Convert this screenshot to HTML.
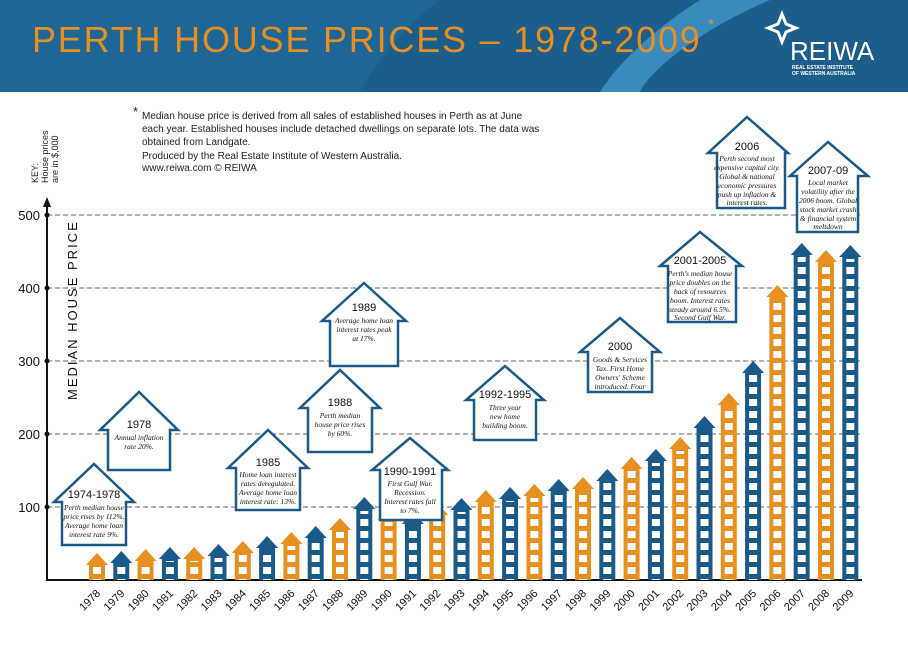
<!DOCTYPE html>
<html><head><meta charset="utf-8"><style>
body{margin:0;width:908px;height:642px;overflow:hidden;background:#fff;font-family:"Liberation Sans",sans-serif}
</style></head><body>
<svg width="908" height="642" viewBox="0 0 908 642" xmlns="http://www.w3.org/2000/svg" font-family="Liberation Sans, sans-serif">
<defs>
<pattern id="w" patternUnits="userSpaceOnUse" x="-8" y="0" width="16" height="12">
<rect x="4" y="3" width="8" height="7" fill="#fff"/>
</pattern>
</defs>
<!-- header -->
<rect x="0" y="0" width="908" height="92" fill="#1b5d8b"/>
<path d="M0,0 H440 C400,30 380,60 360,92 H0 Z" fill="#1e6696"/>
<path d="M700,0 H770 C700,30 650,70 640,92 H600 C620,60 660,25 700,0 Z" fill="#3a8bbd"/>
<text x="32" y="52" font-size="36" fill="#e98f22" letter-spacing="1.8">PERTH HOUSE PRICES – 1978-2009</text>
<text x="708" y="30" font-size="16" fill="#e98f22">*</text>
<path d="M782,14 L786,24 L796,28 L786,32 L782,42 L778,32 L768,28 L778,24 Z" fill="none" stroke="#fff" stroke-width="3"/>
<text x="790" y="60" font-size="26" fill="#fff">REIWA</text>
<text x="792" y="69" font-size="5" fill="#fff" font-weight="bold">REAL ESTATE INSTITUTE</text>
<text x="792" y="75" font-size="5" fill="#fff" font-weight="bold">OF WESTERN AUSTRALIA</text>
<!-- notes -->
<g font-size="10" fill="#222">
<text x="133" y="116" font-size="13">*</text>
<text x="142" y="119">Median house price is derived from all sales of established houses in Perth as at June</text>
<text x="142" y="132">each year. Established houses include detached dwellings on separate lots. The data was</text>
<text x="142" y="145">obtained from Landgate.</text>
<text x="142" y="159">Produced by the Real Estate Institute of Western Australia.</text>
<text x="142" y="171">www.reiwa.com    © REIWA</text>
</g>
<g font-size="9" fill="#222" transform="rotate(-90)">
<text x="-183" y="38">KEY:</text>
<text x="-183" y="48">House prices</text>
<text x="-183" y="58">are in $,000</text>
</g>
<text transform="translate(77,400) rotate(-90)" font-size="13" fill="#111" letter-spacing="2">MEDIAN HOUSE PRICE</text>
<!-- axes -->
<g stroke="#666" stroke-dasharray="5,3" stroke-width="0.9">
<line x1="47" y1="215" x2="862" y2="215"/><line x1="47" y1="288" x2="862" y2="288"/><line x1="47" y1="361" x2="862" y2="361"/><line x1="47" y1="434" x2="862" y2="434"/><line x1="47" y1="507" x2="862" y2="507"/>
</g>
<line x1="47" y1="204" x2="47" y2="581" stroke="#111" stroke-width="2"/>
<polygon points="47,197 43,207 51,207" fill="#111"/>
<line x1="46" y1="580" x2="862" y2="580" stroke="#111" stroke-width="2"/>
<g font-size="13" fill="#111" text-anchor="end">
<text x="40" y="220">500</text><text x="40" y="293">400</text><text x="40" y="366">300</text><text x="40" y="439">200</text><text x="40" y="512">100</text>
</g>
<g fill="#111"><circle cx="47" cy="215" r="2.5"/><circle cx="47" cy="288" r="2.5"/><circle cx="47" cy="361" r="2.5"/><circle cx="47" cy="434" r="2.5"/><circle cx="47" cy="507" r="2.5"/></g>
<!-- bars -->
<g id="bars">
<g transform="translate(97,0)" fill="#e8901f"><polygon points="-11,565 0,553 11,565"/><rect x="-8" y="565" width="16" height="15"/><rect x="-8" y="567" width="16" height="13" fill="url(#w)"/></g>
<g transform="translate(121.3,0)" fill="#1a5a88"><polygon points="-11,563 0,551 11,563"/><rect x="-8" y="563" width="16" height="17"/><rect x="-8" y="565" width="16" height="15" fill="url(#w)"/></g>
<g transform="translate(145.6,0)" fill="#e8901f"><polygon points="-11,561 0,549 11,561"/><rect x="-8" y="561" width="16" height="19"/><rect x="-8" y="563" width="16" height="17" fill="url(#w)"/></g>
<g transform="translate(169.9,0)" fill="#1a5a88"><polygon points="-11,559 0,547 11,559"/><rect x="-8" y="559" width="16" height="21"/><rect x="-8" y="561" width="16" height="19" fill="url(#w)"/></g>
<g transform="translate(194.2,0)" fill="#e8901f"><polygon points="-11,559 0,547 11,559"/><rect x="-8" y="559" width="16" height="21"/><rect x="-8" y="561" width="16" height="19" fill="url(#w)"/></g>
<g transform="translate(218.5,0)" fill="#1a5a88"><polygon points="-11,556 0,544 11,556"/><rect x="-8" y="556" width="16" height="24"/><rect x="-8" y="558" width="16" height="22" fill="url(#w)"/></g>
<g transform="translate(242.8,0)" fill="#e8901f"><polygon points="-11,553 0,541 11,553"/><rect x="-8" y="553" width="16" height="27"/><rect x="-8" y="555" width="16" height="25" fill="url(#w)"/></g>
<g transform="translate(267.1,0)" fill="#1a5a88"><polygon points="-11,548 0,536 11,548"/><rect x="-8" y="548" width="16" height="32"/><rect x="-8" y="550" width="16" height="30" fill="url(#w)"/></g>
<g transform="translate(291.4,0)" fill="#e8901f"><polygon points="-11,544 0,532 11,544"/><rect x="-8" y="544" width="16" height="36"/><rect x="-8" y="546" width="16" height="34" fill="url(#w)"/></g>
<g transform="translate(315.7,0)" fill="#1a5a88"><polygon points="-11,538 0,526 11,538"/><rect x="-8" y="538" width="16" height="42"/><rect x="-8" y="540" width="16" height="40" fill="url(#w)"/></g>
<g transform="translate(340,0)" fill="#e8901f"><polygon points="-11,530 0,518 11,530"/><rect x="-8" y="530" width="16" height="50"/><rect x="-8" y="532" width="16" height="48" fill="url(#w)"/></g>
<g transform="translate(364.3,0)" fill="#1a5a88"><polygon points="-11,509 0,497 11,509"/><rect x="-8" y="509" width="16" height="71"/><rect x="-8" y="511" width="16" height="69" fill="url(#w)"/></g>
<g transform="translate(388.6,0)" fill="#e8901f"><polygon points="-11,520 0,508 11,520"/><rect x="-8" y="520" width="16" height="60"/><rect x="-8" y="522" width="16" height="58" fill="url(#w)"/></g>
<g transform="translate(412.9,0)" fill="#1a5a88"><polygon points="-11,524 0,512 11,524"/><rect x="-8" y="524" width="16" height="56"/><rect x="-8" y="526" width="16" height="54" fill="url(#w)"/></g>
<g transform="translate(437.2,0)" fill="#e8901f"><polygon points="-11,515 0,503 11,515"/><rect x="-8" y="515" width="16" height="65"/><rect x="-8" y="517" width="16" height="63" fill="url(#w)"/></g>
<g transform="translate(461.5,0)" fill="#1a5a88"><polygon points="-11,510 0,498 11,510"/><rect x="-8" y="510" width="16" height="70"/><rect x="-8" y="512" width="16" height="68" fill="url(#w)"/></g>
<g transform="translate(485.8,0)" fill="#e8901f"><polygon points="-11,502 0,490 11,502"/><rect x="-8" y="502" width="16" height="78"/><rect x="-8" y="504" width="16" height="76" fill="url(#w)"/></g>
<g transform="translate(510.1,0)" fill="#1a5a88"><polygon points="-11,499 0,487 11,499"/><rect x="-8" y="499" width="16" height="81"/><rect x="-8" y="501" width="16" height="79" fill="url(#w)"/></g>
<g transform="translate(534.4,0)" fill="#e8901f"><polygon points="-11,496 0,484 11,496"/><rect x="-8" y="496" width="16" height="84"/><rect x="-8" y="498" width="16" height="82" fill="url(#w)"/></g>
<g transform="translate(558.7,0)" fill="#1a5a88"><polygon points="-11,491 0,479 11,491"/><rect x="-8" y="491" width="16" height="89"/><rect x="-8" y="493" width="16" height="87" fill="url(#w)"/></g>
<g transform="translate(583,0)" fill="#e8901f"><polygon points="-11,489 0,477 11,489"/><rect x="-8" y="489" width="16" height="91"/><rect x="-8" y="491" width="16" height="89" fill="url(#w)"/></g>
<g transform="translate(607.3,0)" fill="#1a5a88"><polygon points="-11,481 0,469 11,481"/><rect x="-8" y="481" width="16" height="99"/><rect x="-8" y="483" width="16" height="97" fill="url(#w)"/></g>
<g transform="translate(631.6,0)" fill="#e8901f"><polygon points="-11,469 0,457 11,469"/><rect x="-8" y="469" width="16" height="111"/><rect x="-8" y="471" width="16" height="109" fill="url(#w)"/></g>
<g transform="translate(655.9,0)" fill="#1a5a88"><polygon points="-11,461 0,449 11,461"/><rect x="-8" y="461" width="16" height="119"/><rect x="-8" y="463" width="16" height="117" fill="url(#w)"/></g>
<g transform="translate(680.2,0)" fill="#e8901f"><polygon points="-11,449 0,437 11,449"/><rect x="-8" y="449" width="16" height="131"/><rect x="-8" y="451" width="16" height="129" fill="url(#w)"/></g>
<g transform="translate(704.5,0)" fill="#1a5a88"><polygon points="-11,428 0,416 11,428"/><rect x="-8" y="428" width="16" height="152"/><rect x="-8" y="430" width="16" height="150" fill="url(#w)"/></g>
<g transform="translate(728.8,0)" fill="#e8901f"><polygon points="-11,405 0,393 11,405"/><rect x="-8" y="405" width="16" height="175"/><rect x="-8" y="407" width="16" height="173" fill="url(#w)"/></g>
<g transform="translate(753.1,0)" fill="#1a5a88"><polygon points="-11,373 0,361 11,373"/><rect x="-8" y="373" width="16" height="207"/><rect x="-8" y="375" width="16" height="205" fill="url(#w)"/></g>
<g transform="translate(777.4,0)" fill="#e8901f"><polygon points="-11,297 0,285 11,297"/><rect x="-8" y="297" width="16" height="283"/><rect x="-8" y="299" width="16" height="281" fill="url(#w)"/></g>
<g transform="translate(801.7,0)" fill="#1a5a88"><polygon points="-11,255 0,243 11,255"/><rect x="-8" y="255" width="16" height="325"/><rect x="-8" y="257" width="16" height="323" fill="url(#w)"/></g>
<g transform="translate(826,0)" fill="#e8901f"><polygon points="-11,262 0,250 11,262"/><rect x="-8" y="262" width="16" height="318"/><rect x="-8" y="264" width="16" height="316" fill="url(#w)"/></g>
<g transform="translate(850.3,0)" fill="#1a5a88"><polygon points="-11,257 0,245 11,257"/><rect x="-8" y="257" width="16" height="323"/><rect x="-8" y="259" width="16" height="321" fill="url(#w)"/></g>
</g>
<!-- year labels -->
<g font-size="11" fill="#111" text-anchor="end">
<text transform="translate(101,594) rotate(-45)">1978</text>
<text transform="translate(125.3,594) rotate(-45)">1979</text>
<text transform="translate(149.6,594) rotate(-45)">1980</text>
<text transform="translate(173.9,594) rotate(-45)">1981</text>
<text transform="translate(198.2,594) rotate(-45)">1982</text>
<text transform="translate(222.5,594) rotate(-45)">1983</text>
<text transform="translate(246.8,594) rotate(-45)">1984</text>
<text transform="translate(271.1,594) rotate(-45)">1985</text>
<text transform="translate(295.4,594) rotate(-45)">1986</text>
<text transform="translate(319.7,594) rotate(-45)">1987</text>
<text transform="translate(344,594) rotate(-45)">1988</text>
<text transform="translate(368.3,594) rotate(-45)">1989</text>
<text transform="translate(392.6,594) rotate(-45)">1990</text>
<text transform="translate(416.9,594) rotate(-45)">1991</text>
<text transform="translate(441.2,594) rotate(-45)">1992</text>
<text transform="translate(465.5,594) rotate(-45)">1993</text>
<text transform="translate(489.8,594) rotate(-45)">1994</text>
<text transform="translate(514.1,594) rotate(-45)">1995</text>
<text transform="translate(538.4,594) rotate(-45)">1996</text>
<text transform="translate(562.7,594) rotate(-45)">1997</text>
<text transform="translate(587,594) rotate(-45)">1998</text>
<text transform="translate(611.3,594) rotate(-45)">1999</text>
<text transform="translate(635.6,594) rotate(-45)">2000</text>
<text transform="translate(659.9,594) rotate(-45)">2001</text>
<text transform="translate(684.2,594) rotate(-45)">2002</text>
<text transform="translate(708.5,594) rotate(-45)">2003</text>
<text transform="translate(732.8,594) rotate(-45)">2004</text>
<text transform="translate(757.1,594) rotate(-45)">2005</text>
<text transform="translate(781.4,594) rotate(-45)">2006</text>
<text transform="translate(805.7,594) rotate(-45)">2007</text>
<text transform="translate(830,594) rotate(-45)">2008</text>
<text transform="translate(854.3,594) rotate(-45)">2009</text>
</g>
<!-- callouts -->
<g fill="#fff" stroke="#1a5a88" stroke-width="2.5" stroke-linejoin="miter">
<polygon points="62,502 54,502 94,464 134,502 126,502 126,545 62,545"/>
<polygon points="108,430 100,430 139,392 178,430 170,430 170,470 108,470"/>
<polygon points="236,468 228,468 268,430 308,468 300,468 300,510 236,510"/>
<polygon points="308,408 300,408 340,370 380,408 372,408 372,452 308,452"/>
<polygon points="330,321 322,321 364,283 406,321 398,321 398,366 330,366"/>
<polygon points="380,470 372,470 410,438 448,470 442,470 442,520 380,520"/>
<polygon points="474,400 466,400 505,366 544,400 536,400 536,440 474,440"/>
<polygon points="588,352 580,352 620,318 660,352 652,352 652,392 588,392"/>
<polygon points="668,266 660,266 700,232 742,266 736,266 736,322 668,322"/>
<polygon points="717,153 708,153 747,117 788,153 785,153 785,208 717,208"/>
<polygon points="797,176 790,176 828,142 868,176 858,176 858,232 797,232"/>
</g>
<g text-anchor="middle" fill="#111">
<g font-size="11"><text x="94" y="498">1974-1978</text><text x="139" y="428">1978</text><text x="268" y="466">1985</text><text x="340" y="406">1988</text><text x="364" y="311">1989</text><text x="410" y="475">1990-1991</text><text x="505" y="398">1992-1995</text><text x="620" y="350">2000</text><text x="700" y="264">2001-2005</text><text x="747" y="150">2006</text><text x="828" y="174">2007-09</text></g>
<g font-size="7.5" font-family="Liberation Serif, serif" font-style="italic">
<text x="94" y="510">Perth median house</text><text x="94" y="519">price rises by 112%.</text><text x="94" y="528">Average home loan</text><text x="94" y="537">interest rate 9%.</text>
<text x="139" y="440">Annual inflation</text><text x="139" y="449">rate 20%.</text>
<text x="268" y="477">Home loan interest</text><text x="268" y="486">rates deregulated.</text><text x="268" y="495">Average home loan</text><text x="268" y="504">interest rate: 13%.</text>
<text x="340" y="418">Perth median</text><text x="340" y="427">house price rises</text><text x="340" y="436">by 60%.</text>
<text x="364" y="323">Average home loan</text><text x="364" y="332">interest rates peak</text><text x="364" y="341">at 17%.</text>
<text x="410" y="486">First Gulf War.</text><text x="410" y="495">Recession.</text><text x="410" y="504">Interest rates fall</text><text x="410" y="513">to 7%.</text>
<text x="505" y="410">Three year</text><text x="505" y="419">new home</text><text x="505" y="428">building boom.</text>
<text x="620" y="362">Goods &amp; Services</text><text x="620" y="371">Tax. First Home</text><text x="620" y="380">Owners' Scheme</text><text x="620" y="389">introduced. Four</text>
<text x="700" y="276">Perth's median house</text><text x="700" y="285">price doubles on the</text><text x="700" y="294">back of resources</text><text x="700" y="303">boom. Interest rates</text><text x="700" y="312">steady around 6.5%.</text><text x="700" y="320">Second Gulf War.</text>
<text x="747" y="161">Perth second most</text><text x="747" y="170">expensive capital city.</text><text x="747" y="179">Global &amp; national</text><text x="747" y="188">economic pressures</text><text x="747" y="197">push up inflation &amp;</text><text x="747" y="205">interest rates.</text>
<text x="828" y="185">Local market</text><text x="828" y="194">volatility after the</text><text x="828" y="203">2006 boom. Global</text><text x="828" y="212">stock market crash</text><text x="828" y="221">&amp; financial system</text><text x="828" y="229">meltdown</text>
</g>
</g>
</svg>
</body></html>
